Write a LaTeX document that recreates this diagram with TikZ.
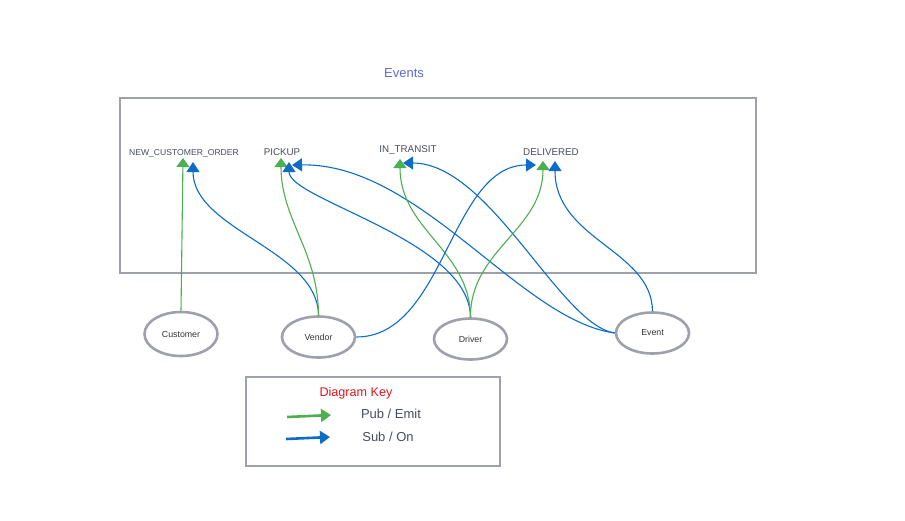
\documentclass[tikz,border=0pt]{standalone}
\usepackage{fontspec}
\setmainfont{Liberation Sans}
\usetikzlibrary{arrows.meta,shapes.geometric}

\definecolor{pubgreen}{RGB}{76,175,80}
\definecolor{subblue}{RGB}{12,108,200}
\definecolor{framegray}{RGB}{158,160,170}
\definecolor{labelgray}{RGB}{70,76,92}
\definecolor{titleblue}{RGB}{92,106,208}
\definecolor{keyred}{RGB}{230,20,28}

\tikzset{
	evlabel/.style={text=labelgray, font=\fontsize{9.8}{11}\selectfont, inner sep=0pt},
	actor/.style={ellipse, draw=framegray, line width=2.6pt, minimum width=73pt, minimum height=41pt, inner sep=0pt, font=\fontsize{8.8}{10}\selectfont, text=black!80},
	pub/.style={pubgreen, line width=1.1pt, -{Triangle[width=13pt,length=9pt]}},
	sub/.style={subblue, line width=1.1pt, -{Triangle[width=13pt,length=10pt]}},
	keytext/.style={text=labelgray, font=\fontsize{13}{15}\selectfont, inner sep=0pt}
}

\begin{document}
\begin{tikzpicture}[x=1pt, y=-1pt]

	\useasboundingbox (0,0) rectangle (905,520);

	% events frame
	\draw[framegray, line width=2.6pt] (120,98) rectangle (756,273);
	\node[text=titleblue, font=\fontsize{13}{15}\selectfont] (title) at (404,73) {Events};

	\node[evlabel, font=\fontsize{8.6}{10}\selectfont] (nco) at (184,153) {NEW\_CUSTOMER\_ORDER};
	\node[evlabel] (pickup) at (282,152) {PICKUP};
	\node[evlabel] (transit) at (408,150) {IN\_TRANSIT};
	\node[evlabel] (delivered) at (551,152) {DELIVERED};

	\coordinate (ncoG) at (183,158);
	\coordinate (ncoS) at (193,162);
	\coordinate (pickG) at (281,158);
	\coordinate (pickS) at (289,162);
	\coordinate (pickW) at (292,165);
	\coordinate (transG) at (400,159);
	\coordinate (transW) at (403,163);
	\coordinate (delivE) at (536,165);
	\coordinate (delivG) at (543,161);
	\coordinate (delivS) at (555,161);

	% services
	\node[actor, minimum height=44pt] (customer) at (181,334) {Customer};
	\node[actor] (vendor) at (318.5,337) {Vendor};
	\node[actor] (driver) at (470.5,339) {Driver};
	\node[actor] (event) at (652.5,333) {Event};

	\draw[pub] (customer.north) -- (ncoG);
	\draw[sub] (vendor.north) .. controls (318,250) and (193,230) .. (ncoS);
	\draw[pub] (vendor.north) .. controls (318,250) and (281,220) .. (pickG);
	\draw[sub] (driver.north) .. controls (470,240) and (289,200) .. (pickS);
	\draw[sub] (event.west) .. controls (520,320) and (420,163) .. (pickW);
	\draw[pub] (driver.north) .. controls (470,250) and (400,230) .. (transG);
	\draw[sub] (event.west) .. controls (560,325) and (490,163) .. (transW);
	\draw[sub] (vendor.east) .. controls (445,337) and (450,165) .. (delivE);
	\draw[pub] (driver.north) .. controls (470,250) and (543,230) .. (delivG);
	\draw[sub] (event.north) .. controls (652,250) and (555,240) .. (delivS);

	% key
	\draw[framegray, line width=2.6pt] (246,377) rectangle (500,466);
	\node[text=keyred, font=\fontsize{12.6}{15}\selectfont, inner sep=0pt] (keytitle) at (356,393) {Diagram Key};
	\coordinate (pubA) at (287,417);
	\coordinate (pubB) at (331,415);
	\coordinate (subA) at (286,439);
	\coordinate (subB) at (330,437);
	\draw[pub, line width=2.6pt, -{Triangle[width=13pt,length=10pt]}] (pubA) -- (pubB);
	\draw[sub, line width=2.6pt, -{Triangle[width=13pt,length=10pt]}] (subA) -- (subB);
	\node[keytext] (pubtext) at (391,414) {Pub / Emit};
	\node[keytext] (subtext) at (388,437) {Sub / On};

\end{tikzpicture}
\end{document}
